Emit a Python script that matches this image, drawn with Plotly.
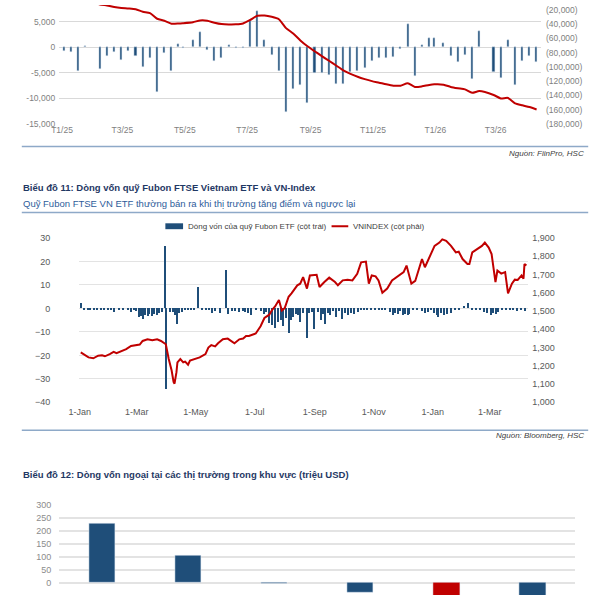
import plotly.graph_objects as go
import pandas as pd

# ---------------- Chart 10 (top, cropped): weekly foreign net flow (bn VND) ----------------
week_dates = ["2025-01-03","2025-01-10","2025-01-17","2025-01-24","2025-02-07","2025-02-14","2025-02-21",
              "2025-02-28","2025-03-07","2025-03-14","2025-03-21","2025-03-28","2025-04-04","2025-04-11",
              "2025-04-18","2025-04-25","2025-04-29","2025-05-09","2025-05-16","2025-05-23","2025-05-30",
              "2025-06-06","2025-06-13","2025-06-20","2025-06-27","2025-07-04","2025-07-11","2025-07-18",
              "2025-07-25","2025-08-01","2025-08-08","2025-08-15","2025-08-22","2025-08-29","2025-09-05",
              "2025-09-12","2025-09-19","2025-09-26","2025-10-03","2025-10-10","2025-10-17","2025-10-24",
              "2025-10-31","2025-11-07","2025-11-14","2025-11-21","2025-11-28","2025-12-05","2025-12-12",
              "2025-12-19","2025-12-26","2025-12-31","2026-01-09","2026-01-16","2026-01-23","2026-01-30",
              "2026-02-06","2026-02-13","2026-02-27","2026-03-06","2026-03-13","2026-03-20","2026-03-27",
              "2026-04-03","2026-04-10"]
weekly_flow = [-700,-1000,-4550,300,-4230,-1670,-830,-2500,-700,-1670,
               -3900,-2000,-8700,-1150,-4680,700,-200,1350,3000,-500,
               -2600,-2000,450,-100,-50,5400,7100,1350,-1500,-4700,
               -12750,-8070,-7440,-10960,-5000,-5000,-5500,-7250,-7250,-4870,
               -4550,-4100,-2630,-2000,-2100,-1860,-380,4550,-5700,450,
               1860,1860,900,-1670,-2950,-1500,-6150,3270,-4750,-5960,
               1350,-7300,-2760,-1670,-2950]
cumulative_flow = [-1000,-2500,-6500,-6200,-12300,-13660,-15860,-17240,-17930,-19030,
                   -22480,-24420,-32410,-35170,-39310,-39030,-38620,-37240,-34760,-35170,
                   -37930,-39860,-40410,-40270,-39030,-34070,-28280,-27860,-29650,-33100,
                   -45520,-53100,-62760,-71040,-77930,-84830,-91310,-97930,-104690,-109650,
                   -113790,-117100,-119860,-122070,-124410,-126210,-126210,-122760,-128000,-127170,
                   -125240,-124410,-124830,-128000,-129930,-131450,-136280,-133800,-139310,-144140,
                   -143450,-151030,-153790,-156280,-159720]
top_x_ticks = ["2025-01-01","2025-03-01","2025-05-01","2025-07-01","2025-09-01","2025-11-01","2026-01-01","2026-03-01"]
top_x_labels = ["T1/25","T3/25","T5/25","T7/25","T9/25","T11/25","T1/26","T3/26"]
top_left_ticks = [-15000,-10000,-5000,0,5000,10000]
top_left_labels = ["-15,000","-10,000","-5,000","0","5,000","10,000"]
top_right_ticks = [-180000,-160000,-140000,-120000,-100000,-80000,-60000,-40000,-20000]
top_right_labels = ["(180,000)","(160,000)","(140,000)","(120,000)","(100,000)","(80,000)","(60,000)","(40,000)","(20,000)"]

# ---------------- Chart 11: Fubon ETF flow & VN-Index (days since 1-Jan-2025) ----------------
vni_day = [1,6,9,14,19,23,26,31,35,38,43,48,53,58,62,65,70,75,80,84,
           87,89,92,95,97,98,100,101,104,107,109,112,114,119,124,130,133,136,140,143,
           148,153,157,160,165,169,172,175,182,187,191,196,199,202,206,209,212,216,219,225,
           228,231,235,238,245,248,253,258,264,267,272,277,282,287,291,296,299,302,306,309,
           313,318,323,328,335,338,343,347,350,354,357,362,367,372,375,379,384,389,392,396,
           401,403,406,411,416,419,423,426,430,432,436,440,443,447,450,453,457,459,460,462]
vni_value = [1273,1259,1246,1241,1255,1258,1252,1264,1276,1269,1278,1291,1309,1313,1316,1336,1345,1340,1345,1336,
             1322,1318,1237,1174,1112,1102,1165,1219,1237,1219,1223,1206,1228,1237,1246,1264,1300,1313,1306,1323,
             1345,1349,1336,1323,1345,1349,1363,1363,1377,1417,1462,1480,1507,1525,1560,1503,1516,1578,1597,1641,
             1650,1686,1623,1695,1699,1632,1659,1683,1659,1641,1668,1672,1668,1704,1767,1771,1650,1695,1690,1668,
             1600,1623,1668,1686,1713,1749,1650,1665,1722,1785,1740,1798,1857,1875,1893,1885,1857,1821,1825,1785,
             1758,1758,1821,1839,1857,1875,1848,1812,1659,1722,1705,1713,1597,1650,1672,1670,1695,1677,1758,1749]
fubon_day = [1,4,8,11,15,18,22,25,29,32,35,40,45,50,53,56,58,
             61,63,65,67,70,72,75,77,80,82,85,88,89,
             93,96,98,101,103,106,109,112,115,118,122,126,130,134,
             137,140,145,151,153,157,160,165,169,171,174,177,182,187,191,193,
             196,199,202,205,208,210,213,216,218,221,224,226,228,231,235,237,240,242,246,249,
             252,254,257,259,262,265,268,271,274,277,280,284,288,291,294,297,301,305,309,313,316,
             321,324,326,329,331,334,336,339,341,345,349,
             354,357,360,363,366,369,371,374,377,380,384,388,392,
             397,402,406,410,414,418,421,425,427,430,433,437,441,445,448,452,456,460]
fubon_flow = [2.5,-0.3,-0.3,-0.3,-0.3,-0.3,-0.3,-0.3,-0.3,-0.3,-1.4,-0.5,-0.5,-0.8,-1.5,-0.6,-1.0,
              -3.8,-3.2,-4.6,-3.0,-3.4,-2.6,-3.2,-2.4,-3.0,-2.0,-1.6,26.5,-34.2,
              -1.5,-1.5,-3.0,-6.5,-2.0,-1.5,-0.4,-0.3,-0.3,-0.3,9.3,-0.3,-0.3,-0.3,
              -2.0,-1.0,-1.8,16.3,-2.5,-1.0,-1.0,-1.5,-1.0,-1.5,-2.0,-2.8,-0.5,-1.0,-2.5,-1.5,
              -6.3,-7.0,-8.4,-6.0,-4.8,-7.5,-4.2,-10.3,-5.0,-3.5,-2.5,-3.0,-5.6,-2.0,-12.5,-2.0,-1.5,-9.0,-1.5,-4.8,
              -2.3,-6.5,-2.0,-2.8,-1.0,-3.5,-1.0,-4.5,-2.0,-3.0,-2.0,-2.5,-1.5,-0.5,-0.3,-0.8,-0.3,-0.3,-0.3,-0.3,-0.3,
              -1.5,-3.0,-2.0,-2.5,-1.0,-3.0,-2.5,-3.0,-2.5,-0.3,-0.3,
              -1.0,-2.0,-1.5,-0.3,-2.0,-3.0,-3.5,-2.0,-3.0,-2.5,-2.0,-0.3,-0.3,
              1.0,2.3,-0.3,-0.3,-0.3,-1.5,-2.0,-3.0,-2.0,-2.5,-1.5,-0.3,-0.3,-0.3,-0.3,-1.0,-0.3,-1.0]
mid_x_ticks = ["2025-01-01","2025-03-01","2025-05-01","2025-07-01","2025-09-01","2025-11-01","2026-01-01","2026-03-01"]
mid_x_labels = ["1-Jan","1-Mar","1-May","1-Jul","1-Sep","1-Nov","1-Jan","1-Mar"]
mid_left_ticks = [-40,-30,-20,-10,0,10,20,30]
mid_right_ticks = [1000,1100,1200,1300,1400,1500,1600,1700,1800,1900]
mid_right_labels = ["1,000","1,100","1,200","1,300","1,400","1,500","1,600","1,700","1,800","1,900"]

# ---------------- Chart 12: regional foreign flows (mn USD) ----------------
markets = ["Ấn Độ", "Hàn Quốc", "Indonesia", "Thái Lan", "Việt Nam", "Philippines"]
market_flow = [228, 103, -5, -39, -95, -70]
bot_y_ticks = [-50, 0, 50, 100, 150, 200, 250, 300]

BLUE = "#1F4E79"
RED = "#C00000"
FONT = "Liberation Sans, Arial, sans-serif"

base = pd.Timestamp("2025-01-01")
vni_dates = base + pd.to_timedelta(vni_day, unit="D")
fubon_dates = base + pd.to_timedelta(fubon_day, unit="D")
DAY_MS = 86400000

fig = go.Figure()
fig.add_trace(go.Bar(x=pd.to_datetime(week_dates), y=weekly_flow, marker_color=BLUE,
                     width=2.0 * DAY_MS, xaxis="x", yaxis="y"))
fig.add_trace(go.Scatter(x=pd.to_datetime(week_dates), y=cumulative_flow, mode="lines",
                         line=dict(color=RED, width=2, shape="spline", smoothing=0.6),
                         xaxis="x", yaxis="y2"))
fig.add_trace(go.Bar(x=fubon_dates, y=fubon_flow, marker_color=BLUE, marker_line_width=0,
                     width=1.3 * DAY_MS, xaxis="x2", yaxis="y3"))
fig.add_trace(go.Scatter(x=vni_dates, y=vni_value, mode="lines", line=dict(color=RED, width=2),
                         xaxis="x2", yaxis="y4"))
fig.add_trace(go.Bar(x=markets, y=market_flow, width=0.31,
                     marker_color=[RED if m == "Việt Nam" else BLUE for m in markets],
                     xaxis="x3", yaxis="y5"))

def px(v):
    return v / 600.0

def py(v):
    return 1 - v / 600.0

tick_grey = dict(family=FONT, size=8.5, color="#7F7F7F")
tick_dark = dict(family=FONT, size=9, color="#595959")

fig.update_layout(
    width=600, height=600, margin=dict(l=0, r=0, t=0, b=0),
    paper_bgcolor="white", plot_bgcolor="white", showlegend=False,
    bargap=0, font=dict(family=FONT),
    xaxis=dict(domain=[px(50), px(540)], anchor="y", type="date",
               range=["2024-12-29 05:00", "2026-04-14 07:00"],
               tickvals=top_x_ticks, ticktext=top_x_labels, tickfont=tick_grey,
               showgrid=False, zeroline=False, showline=False, ticks=""),
    yaxis=dict(domain=[py(121), 1], range=[-15000, 8269], tickvals=top_left_ticks,
               ticktext=top_left_labels, tickfont=tick_grey, showgrid=True,
               gridcolor="#D9D9D9", gridwidth=1, zeroline=False, ticks="", ticklabelstandoff=3),
    yaxis2=dict(overlaying="y", side="right", anchor="x", range=[-180000, -13103],
                tickvals=top_right_ticks, ticktext=top_right_labels, tickfont=tick_grey,
                showgrid=False, zeroline=False, ticks="", ticklabelstandoff=4),
    xaxis2=dict(domain=[px(70), px(527)], anchor="y3", type="date",
                range=["2024-12-31 00:00", "2026-04-09 21:00"],
                tickvals=mid_x_ticks, ticktext=mid_x_labels, tickfont=tick_dark,
                showgrid=False, zeroline=False, showline=False, ticks="", ticklabelstandoff=3),
    yaxis3=dict(domain=[py(404), py(237)], range=[-40, 30], tickvals=mid_left_ticks,
                tickfont=tick_dark, showgrid=True, gridcolor="#E3E3E3", gridwidth=1,
                zeroline=False, ticks="", ticklabelstandoff=8),
    yaxis4=dict(overlaying="y3", side="right", anchor="x2", range=[1000, 1900],
                tickvals=mid_right_ticks, ticktext=mid_right_labels, tickfont=tick_dark,
                showgrid=False, zeroline=False, ticks="", ticklabelstandoff=3),
    xaxis3=dict(domain=[px(50), px(575)], anchor="y5", showticklabels=False,
                showgrid=False, zeroline=False, showline=False, ticks=""),
    yaxis5=dict(domain=[0, py(508)], range=[-47.7, 300], tickvals=bot_y_ticks,
                tickfont=dict(family=FONT, size=9, color="#8C8C8C"), showgrid=True,
                gridcolor="#E3E3E3", gridwidth=1.5, zeroline=False, ticks="", ticklabelstandoff=7),
)

sep_color = "#8EA9C8"
shapes = [
    dict(type="line", xref="paper", yref="paper", x0=px(12), x1=px(588), y0=py(144), y1=py(144),
         line=dict(color=sep_color, width=1.5)),
    dict(type="line", xref="paper", yref="paper", x0=px(12), x1=px(588), y0=py(211), y1=py(211),
         line=dict(color=sep_color, width=1.5)),
    dict(type="line", xref="paper", yref="paper", x0=px(12), x1=px(588), y0=py(432.5), y1=py(432.5),
         line=dict(color=sep_color, width=1.5)),
    # legend swatches for chart 11
    dict(type="rect", xref="paper", yref="paper", x0=px(158), x1=px(176), y0=py(228), y1=py(222),
         fillcolor=BLUE, line=dict(width=0)),
    dict(type="line", xref="paper", yref="paper", x0=px(327), x1=px(344), y0=py(225), y1=py(225),
         line=dict(color=RED, width=2)),
]

title_font = dict(family=FONT, size=9.5, color="#1F3864")
annotations = [
    dict(text="<i>Nguồn: FiinPro, HSC</i>", x=px(586), y=py(151), xanchor="right", yanchor="middle",
         font=dict(family=FONT, size=8, color="#404040")),
    dict(text="<b>Biểu đồ 11: Dòng vốn quỹ Fubon FTSE Vietnam ETF và VN-Index</b>", x=px(11), y=py(186),
         xanchor="left", yanchor="middle", font=title_font),
    dict(text="Quỹ Fubon FTSE VN ETF thường bán ra khi thị trường tăng điểm và ngược lại", x=px(11), y=py(202),
         xanchor="left", yanchor="middle", font=dict(family=FONT, size=9.5, color="#2E5C9A")),
    dict(text="Dòng vốn của quỹ Fubon ETF (cột trái)", x=px(179), y=py(225), xanchor="left", yanchor="middle",
         font=dict(family=FONT, size=8, color="#404040")),
    dict(text="VNINDEX (cột phải)", x=px(347), y=py(225), xanchor="left", yanchor="middle",
         font=dict(family=FONT, size=8, color="#404040")),
    dict(text="<i>Nguồn: Bloomberg, HSC</i>", x=px(586), y=py(438), xanchor="right", yanchor="middle",
         font=dict(family=FONT, size=8, color="#404040")),
    dict(text="<b>Biểu đồ 12: Dòng vốn ngoại tại các thị trường trong khu vực (triệu USD)</b>", x=px(11), y=py(477),
         xanchor="left", yanchor="middle", font=title_font),
]
for a in annotations:
    a.update(xref="paper", yref="paper", showarrow=False)

fig.update_layout(shapes=shapes, annotations=annotations)
fig.write_html("out.html", config={"displayModeBar": False},
               post_script="document.body.style.margin='0px';")
